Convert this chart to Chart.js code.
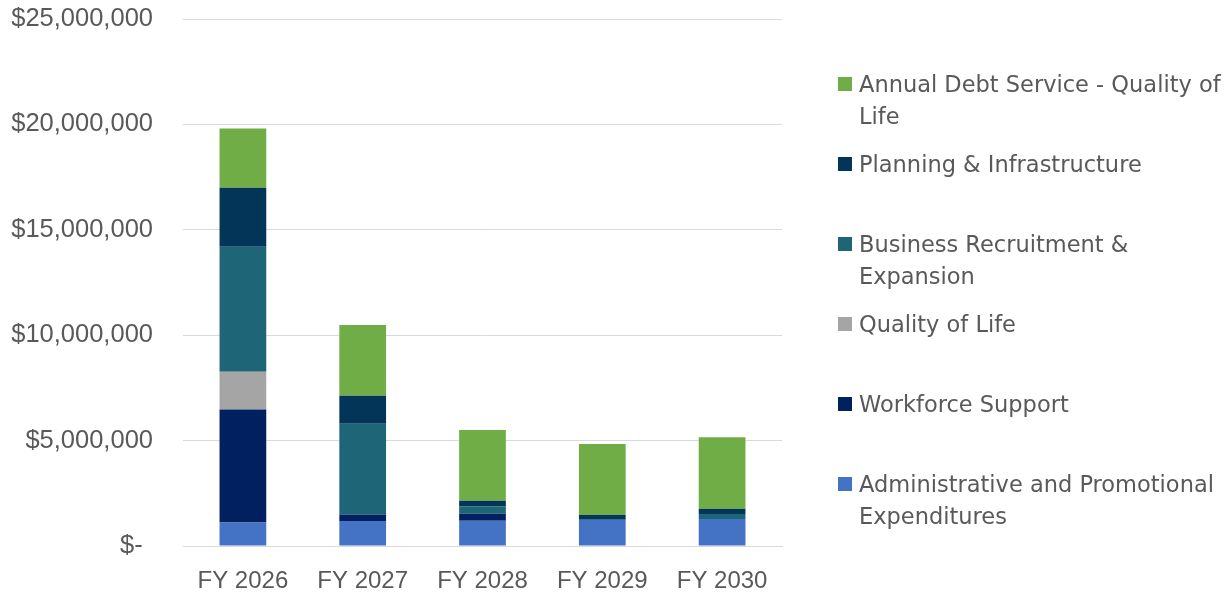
<!DOCTYPE html>
<html>
<head>
<meta charset="utf-8">
<script src="https://cdn.jsdelivr.net/npm/chart.js@4.4.1/dist/chart.umd.min.js"></script>
<style>
  html, body { margin: 0; padding: 0; background: #fff; }
  #wrap { position: relative; width: 1232px; height: 592px; }
  #chart { position: absolute; left: 0; top: 0; }
  #legend { position: absolute; left: 838px; top: 0; width: 394px; }
  .item { position: absolute; left: 0; display: flex; align-items: flex-start; }
  .swatch { width: 14px; height: 14px; margin-top: 9px; margin-right: 7px; flex: none; }
  .label { font-family: "DejaVu Sans", sans-serif; font-size: 22.5px; line-height: 32px; color: #595959; width: 372px; }
</style>
</head>
<body>
<div id="wrap">
  <canvas id="chart" width="1232" height="592"></canvas>
  <div id="legend"></div>
</div>
<script>
const years = ["FY 2026", "FY 2027", "FY 2028", "FY 2029", "FY 2030"];

const adminPromo = [1120000, 1190000, 1200000, 1250000, 1280000];
const workforce = [5360000, 310000, 330000, 0, 0];
const qualityOfLife = [1790000, 0, 0, 0, 0];
const businessRecruit = [5930000, 4300000, 350000, 0, 240000];
const planningInfra = [2800000, 1330000, 270000, 220000, 250000];
const debtService = [2810000, 3350000, 3350000, 3370000, 3390000];

const yTicks = [0, 5000000, 10000000, 15000000, 20000000, 25000000];

const seriesList = [
  { label: "Administrative and Promotional Expenditures", data: adminPromo, color: "#4472C4" },
  { label: "Workforce Support", data: workforce, color: "#002060" },
  { label: "Quality of Life", data: qualityOfLife, color: "#A5A5A5" },
  { label: "Business Recruitment & Expansion", data: businessRecruit, color: "#1E6677" },
  { label: "Planning & Infrastructure", data: planningInfra, color: "#033558" },
  { label: "Annual Debt Service - Quality of Life", data: debtService, color: "#70AD47" },
];

// accounting style: zero shows as "$-" with a little trailing space
const formatMoney = (v) => {
  if (v === 0) return "$-\u2009\u2009";
  return "$" + v.toLocaleString("en-US");
};

const buildLegend = (chart) => {
  const box = document.getElementById("legend");
  const items = chart.data.datasets.slice().reverse();
  items.forEach((ds, i) => {
    const item = document.createElement("div");
    item.className = "item";
    item.style.top = 68 + i * 80 + "px";
    const sw = document.createElement("span");
    sw.className = "swatch";
    sw.style.background = ds.backgroundColor;
    const txt = document.createElement("span");
    txt.className = "label";
    txt.textContent = ds.label;
    item.appendChild(sw);
    item.appendChild(txt);
    box.appendChild(item);
  });
};

const chart = new Chart(document.getElementById("chart"), {
  type: "bar",
  data: {
    labels: years,
    datasets: seriesList.map((s) => ({
      label: s.label,
      data: s.data,
      backgroundColor: s.color,
      borderWidth: 0,
      barPercentage: 0.39,
      categoryPercentage: 1,
    })),
  },
  options: {
    responsive: false,
    animation: false,
    layout: { padding: { top: 19, right: 450, left: 0, bottom: 0 } },
    plugins: { legend: { display: false }, tooltip: { enabled: false } },
    scales: {
      x: {
        stacked: true,
        grid: { display: false, drawTicks: false },
        border: { display: true, color: "#d9d9d9", width: 1 },
        ticks: {
          color: "#595959",
          padding: 21,
          font: { family: "Liberation Sans", size: 24 },
        },
        afterFit: (scale) => {
          scale.height = 46;
          scale.paddingLeft = 0;
          scale.paddingRight = 0;
        },
      },
      y: {
        stacked: true,
        min: 0,
        max: 25000000,
        afterBuildTicks: (scale) => { scale.ticks = yTicks.map((v) => ({ value: v })); },
        grid: { color: "#d9d9d9", lineWidth: 1, drawTicks: false },
        border: { display: false },
        ticks: {
          color: "#595959",
          padding: 30,
          font: { family: "Liberation Sans", size: 25.5 },
          callback: (v) => formatMoney(v),
        },
        afterFit: (scale) => {
          scale.width = 183;
          scale.paddingTop = 0;
          scale.paddingBottom = 0;
        },
      },
    },
  },
});

buildLegend(chart);
</script>
</body>
</html>
